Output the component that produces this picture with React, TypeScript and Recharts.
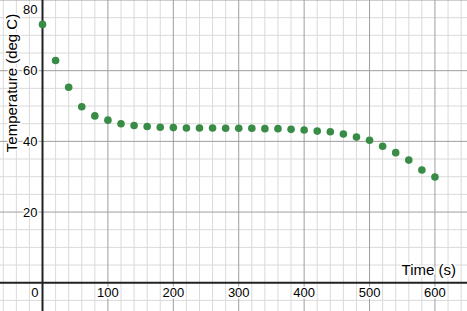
import { ScatterChart, Scatter, XAxis, YAxis, ReferenceLine, ReferenceDot } from 'recharts';

const times = [0, 20, 40, 60, 80, 100, 120, 140, 160, 180, 200, 220, 240, 260, 280, 300, 320, 340, 360, 380, 400, 420, 440, 460, 480, 500, 520, 540, 560, 580, 600];
const temps = [73.1, 62.9, 55.3, 49.8, 47.2, 46.0, 45.0, 44.5, 44.2, 44.0, 43.9, 43.8, 43.8, 43.8, 43.7, 43.7, 43.7, 43.6, 43.6, 43.4, 43.2, 42.9, 42.7, 42.1, 41.2, 40.3, 38.6, 36.8, 34.7, 31.9, 29.9];

const xMajor = [100, 200, 300, 400, 500, 600];
const xMinor = [-60, -40, -20, 20, 40, 60, 80, 120, 140, 160, 180, 220, 240, 260, 280, 320, 340, 360, 380, 420, 440, 460, 480, 520, 540, 560, 580, 620, 640];
const yMajor = [20, 40, 60, 80];
const yMinor = [-5, 5, 10, 15, 25, 30, 35, 45, 50, 55, 65, 70, 75];

const xTickLabels = ['100', '200', '300', '400', '500', '600'];
const yTickLabels = ['20', '40', '60', '80'];

const data = times.map((t, i) => ({ x: t, y: temps[i] }));

const font = '"Liberation Sans", Arial, sans-serif';

const tickText = (text: string, dx: number, dy: number, anchor: string) => (props: any) => {
    const vb = props.viewBox || {};
    // keep labels inside the top edge, like the original does
    const y = Math.max(vb.y + dy, 13.5);
    return (
        <text
            x={vb.x + dx}
            y={y}
            textAnchor={anchor}
            fontSize={13}
            fontFamily={font}
            fill="#000"
            stroke="#fff"
            strokeWidth={3}
            strokeLinejoin="round"
            paintOrder="stroke"
        >
            {text}
        </text>
    );
};

const Dot = (props: any) => <circle cx={props.cx} cy={props.cy} r={3.8} fill="#388c46" />;

export default function App() {
    return (
        <div style={{ position: 'absolute', left: 0, top: 0, width: 467, height: 311, background: '#fff' }}>
            <ScatterChart width={467} height={311} margin={{ top: 0, right: 0, bottom: 0, left: 0 }}>
                <XAxis type="number" dataKey="x" domain={[-65, 649]} allowDataOverflow hide />
                <YAxis type="number" dataKey="y" domain={[-8, 80]} allowDataOverflow hide />
                {xMinor.map(v => <ReferenceLine key={'xm' + v} x={v} stroke="#dadada" strokeWidth={1} />)}
                {yMinor.map(v => <ReferenceLine key={'ym' + v} y={v} stroke="#dadada" strokeWidth={1} />)}
                {xMajor.map(v => <ReferenceLine key={'xM' + v} x={v} stroke="#9e9e9e" strokeWidth={1} />)}
                {yMajor.map(v => <ReferenceLine key={'yM' + v} y={v} stroke="#9e9e9e" strokeWidth={1} />)}
                <ReferenceLine x={0} stroke="#222" strokeWidth={2} />
                <ReferenceLine y={0} stroke="#222" strokeWidth={2} />
                {xMajor.map((v, i) => (
                    <ReferenceDot key={'xl' + v} x={v} y={0} r={0} fill="none" stroke="none"
                        label={{ content: tickText(xTickLabels[i], 0, 14, 'middle') }} />
                ))}
                {yMajor.map((v, i) => (
                    <ReferenceDot key={'yl' + v} x={0} y={v} r={0} fill="none" stroke="none"
                        label={{ content: tickText(yTickLabels[i], -5, 4.5, 'end') }} />
                ))}
                <ReferenceDot x={0} y={0} r={0} fill="none" stroke="none"
                    label={{ content: tickText('0', -4, 14, 'end') }} />
                <Scatter data={data} shape={Dot} isAnimationActive={false} />
            </ScatterChart>
            <svg width={467} height={311} style={{ position: 'absolute', left: 0, top: 0, pointerEvents: 'none' }}>
                <text x={456} y={275} textAnchor="end" fontSize={15} fontFamily={font} fill="#000"
                    stroke="#fff" strokeWidth={3} paintOrder="stroke">Time (s)</text>
                <text transform="translate(17.3, 83) rotate(-90)" textAnchor="middle" fontSize={15} fontFamily={font} fill="#000"
                    stroke="#fff" strokeWidth={3} paintOrder="stroke">Temperature (deg C)</text>
            </svg>
        </div>
    );
}
